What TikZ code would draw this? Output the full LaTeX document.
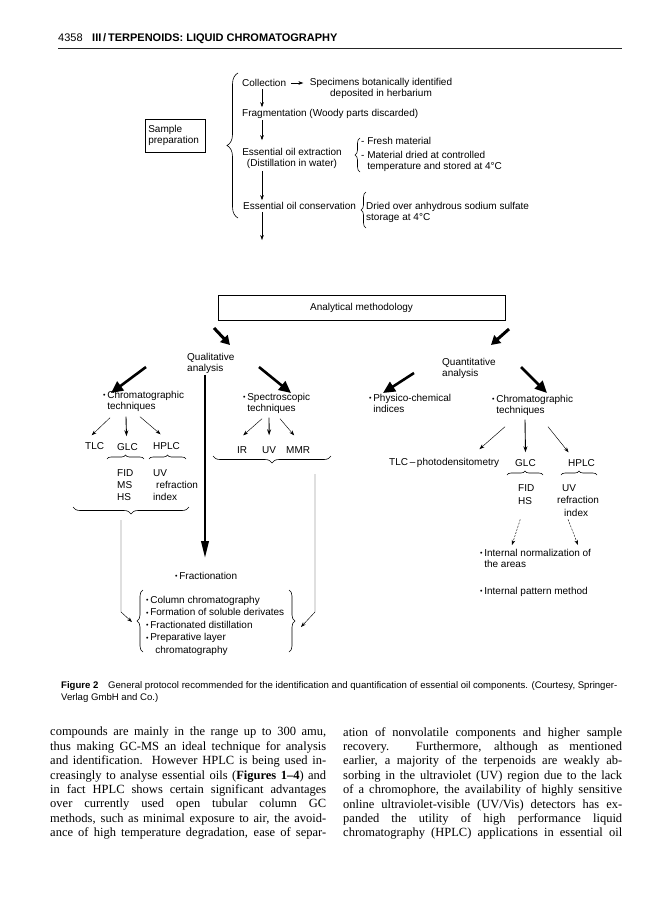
\documentclass[tikz,border=0pt]{standalone}
\usepackage{fontspec}
\setmainfont{Liberation Serif}
\setsansfont{Liberation Sans}
\usetikzlibrary{arrows.meta,decorations.pathreplacing,calc}
\newcommand\dsz{\sffamily\fontsize{10}{11}\selectfont}
\newcommand\dszb{\sffamily\fontsize{10}{12}\selectfont}
\newcommand\dszc{\sffamily\fontsize{10}{12.5}\selectfont}
\newcommand\dszd{\sffamily\fontsize{10}{13}\selectfont}
\newcommand\bul{{\fontsize{7}{7}\selectfont\raisebox{0.6pt}{•}}\,}
\newcommand\jl[1]{\hbox to 276pt{#1}}
\newcommand\jr[1]{\hbox to 279pt{#1}}
\tikzset{
  lbl/.style={inner sep=0pt, anchor=west, font=\dsz},
  blk/.style={inner sep=0pt, anchor=north west, align=left, font=\dsz},
  blkc/.style={inner sep=0pt, anchor=center, align=center, font=\dsz},
  frame/.style={draw, line width=0.6pt, font=\dsz},
  arr/.style={-{Stealth[length=5pt,width=3.6pt]}, line width=0.45pt},
  arrb/.style={-{Stealth[length=6pt,width=4pt]}, line width=0.9pt},
  dsh/.style={-{Stealth[length=5pt,width=3.6pt]}, line width=0.45pt, dash pattern=on 2pt off 1.3pt},
  fat/.style={line width=3pt, -{Triangle[length=9pt,width=10pt]}},
  fatb/.style={line width=2.6pt, -{Triangle[length=12pt,width=11pt]}},
  brc/.style={decorate, decoration={brace, amplitude=#1}, line width=0.6pt},
  brc/.default=4pt
}
\begin{document}
\begin{tikzpicture}[x=1pt,y=-1pt]
\fill[white] (0,0) rectangle (668,900);
\useasboundingbox (0,0) rectangle (668,900);

% ---------- header ----------
\node[inner sep=0pt, anchor=base west, font=\sffamily\fontsize{11}{12}\selectfont] (hnum) at (58,41) {4358};
\node[inner sep=0pt, anchor=base west, font=\sffamily\bfseries\fontsize{11}{12}\selectfont] (htit) at (92,41) {III\,/\,TERPENOIDS: LIQUID CHROMATOGRAPHY};
\draw[line width=1pt, black!85] (58,48) -- (622,48);

% ---------- sample preparation ----------
\coordinate (ax) at (262,0);
\node[frame, anchor=north west, align=left, inner xsep=3pt, text width=54pt, minimum height=33pt] (samp) at (145,119) {Sample\\preparation};
\draw[brc=11pt] (238,218) -- (238,73);

\node[lbl] (coll) at (242,83) {Collection};
\node[blkc] (spec) at (381,88) {Specimens botanically identified\\deposited in herbarium};
\node[lbl] (frag) at (242,114) {Fragmentation (Woody parts discarded)};
\node[blkc] (ext) at (292,158.5) {Essential oil extraction\\(Distillation in water)};
\node[lbl] (fresh) at (361,141) {- Fresh material};
\node[blk] (matd) at (361,151) {- Material dried at controlled\\\hphantom{- }temperature and stored at 4°C};
\node[lbl] (cons) at (243,206) {Essential oil conservation};
\node[blk] (dry) at (366,202) {Dried over anhydrous sodium sulfate\\storage at 4°C};
\coordinate (outc) at (262,240);

\draw[brc=5pt] (360,172) -- (360,138);
\draw[brc=5pt] (366,228) -- (366,192);

\draw[arr] ($(coll.east)+(5,0)$) -- ($(coll.east)+(17,0)$);
\draw[arr] ($(coll.south -| ax)+(0,2)$) -- ($(frag.north -| ax)+(0,-2)$);
\draw[arr] ($(frag.south -| ax)+(0,1)$) -- ($(ext.north -| ax)+(0,-8)$);
\draw[arr] ($(ext.south -| ax)+(0,2)$) -- ($(cons.north -| ax)+(0,-2)$);
\draw[arr] ($(cons.south -| ax)+(0,2)$) -- (outc);

% ---------- analytical methodology ----------
\node[frame, minimum width=287pt, minimum height=25pt, inner sep=0pt] (am) at (361.5,307.5) {Analytical methodology};
\coordinate (f1s) at (214,328); \coordinate (f1e) at (230,345);
\coordinate (f2s) at (509,329); \coordinate (f2e) at (491,345);
\draw[fat] (f1s) -- (f1e);
\draw[fat] (f2s) -- (f2e);

\node[blk] (qual) at (187,353) {Qualitative\\analysis};
\node[blk] (quant) at (442,358) {Quantitative\\analysis};

\coordinate (qa1s) at (146,367); \coordinate (qa1e) at (111,393);
\coordinate (qa2s) at (259,367); \coordinate (qa2e) at (291,393);
\coordinate (qb1s) at (414,373); \coordinate (qb1e) at (383,393);
\coordinate (qb2s) at (521,367); \coordinate (qb2e) at (547,393);
\draw[fatb] (qa1s) -- (qa1e);
\draw[fatb] (qa2s) -- (qa2e);
\draw[fatb] (qb1s) -- (qb1e);
\draw[fatb] (qb2s) -- (qb2e);

% main thick arrow
\coordinate (mainE) at (205,558);
\draw[line width=2.2pt, -{Triangle[length=17pt,width=7.5pt]}] ($(qual.south west)+(18,1)$) -- (mainE);

% ---------- qualitative: chromatographic ----------
\node[blk] (chr1) at (103,391) {\bul Chromatographic\\\hphantom{\bul}techniques};
\node[lbl] (tlc) at (85,446) {TLC};
\node[lbl] (glc) at (117,447) {GLC};
\node[lbl] (hplc) at (153,446) {HPLC};
\draw[arr] ($(chr1.south west)+(7,6)$) -- ($(tlc.north)+(-3,-7)$);
\draw[arrb] ($(chr1.south west)+(23,5)$) -- ($(glc.north)+(-1,-7)$);
\draw[arr] ($(chr1.south west)+(37,5)$) -- ($(hplc.north)+(-6,-8)$);
\draw[brc=4pt] (107,459) -- (144,459);
\draw[brc=4pt] (149,459) -- (186,459);
\node[blk, font=\dszb] (fid) at (117,469) {FID\\MS\\HS};
\node[blk, font=\dszb] (uvb) at (153,469) {UV\\\hspace{3pt}refraction\\index};
\draw[brc=7pt] (189,507) -- (73,507);
\coordinate (lcs) at (121,520); \coordinate (lcm) at (121,612); \coordinate (lce) at (132,622);
\draw[arr] (lcs) -- (lcm) -- (lce);

% ---------- qualitative: spectroscopic ----------
\node[blk] (spc) at (243,393) {\bul Spectroscopic\\\hphantom{\bul}techniques};
\node[lbl] (ir) at (237,450) {IR};
\node[lbl] (uv2) at (262,450) {UV};
\node[lbl] (mmr) at (286,450) {MMR};
\draw[arr] ($(spc.south west)+(19,5)$) -- ($(ir.north)+(1,-11)$);
\draw[arrb] ($(spc.south west)+(26,4)$) -- ($(uv2.north)+(0,-11)$);
\draw[arr] ($(spc.south west)+(37,5)$) -- ($(mmr.north)+(-4,-11)$);
\draw[brc=7pt] (331,456) -- (213,456);
\coordinate (rcs) at (315,474); \coordinate (rcm) at (315,612); \coordinate (rce) at (301,627);
\draw[arr] (rcs) -- (rcm) -- (rce);

% ---------- fractionation ----------
\node[lbl] (frac) at (175,576) {\bul Fractionation};
\node[blk, font=\dszc] (frl) at (146,596) {\bul Column chromatography\\\bul Formation of soluble derivates\\\bul Fractionated distillation\\\bul Preparative layer\\\hphantom{\bul}\hspace{5pt}chromatography};
\draw[brc=6pt] (143,652) -- (143,590);
\draw[brc=6pt] (289,590) -- (289,652);

% ---------- quantitative ----------
\node[blk] (phys) at (369,394) {\bul Physico-chemical\\\hphantom{\bul}indices};
\node[blk] (chr2) at (492,395) {\bul Chromatographic\\\hphantom{\bul}techniques};
\node[lbl] (tlcp) at (389,463) {TLC\,–\,photodensitometry};
\node[lbl] (glc2) at (515,463) {GLC};
\node[lbl] (hplc2) at (568,463) {HPLC};
\draw[arr] ($(chr2.south west)+(13,11)$) -- ($(tlcp.north east)+(-20,-9)$);
\draw[arrb] ($(chr2.south west)+(33,4)$) -- ($(glc2.north)+(0,-7)$);
\draw[arr] ($(chr2.south west)+(56,11)$) -- ($(hplc2.north)+(-13,-7)$);
\draw[brc=4pt] (507,475) -- (543,475);
\draw[brc=4pt] (561,475) -- (597,475);
\node[blk, font=\dszd] (fid2) at (518,484) {FID\\HS};
\node[blk, font=\dszc] (uv3) at (557,484) {\hspace{5pt}UV\\refraction\\\hspace{7pt}index};
\node[blk] (int1) at (480,549) {\bul Internal normalization of\\\hphantom{\bul}the areas};
\node[lbl] (int2) at (480,592) {\bul Internal pattern method};
\draw[dsh] ($(fid2.south)+(-6,15)$) -- ($(int1.north west)+(32,-4)$);
\draw[dsh] ($(uv3.south)+(-10,3)$) -- ($(int1.north west)+(98,-4)$);

% ---------- caption ----------
\node[inner sep=0pt, anchor=north west, align=left, font=\sffamily\fontsize{9.6}{12}\selectfont] (cap) at (61,681) {\textbf{Figure 2}\quad General protocol recommended for the identification and quantification of essential oil components. (Courtesy, Springer-\\Verlag GmbH and Co.)};

% ---------- body text ----------
\node[inner sep=0pt, anchor=north west] (colL) at (50,727) {\parbox[t]{276pt}{\fontsize{12.5}{14.4}\selectfont
\jl{compounds are mainly in the range up to 300 amu,}
\jl{thus making GC-MS an ideal technique for analysis}
\jl{and identification. However HPLC is being used in-}
\jl{creasingly to analyse essential oils (\textbf{Figures 1–4}) and}
\jl{in fact HPLC shows certain significant advantages}
\jl{over currently used open tubular column GC}
\jl{methods, such as minimal exposure to air, the avoid-}
\jl{ance of high temperature degradation, ease of separ-}}};
\node[inner sep=0pt, anchor=north west] (colR) at (343,727) {\parbox[t]{279pt}{\fontsize{12.5}{14.4}\selectfont
\jr{ation of nonvolatile components and higher sample}
\jr{recovery. Furthermore, although as mentioned}
\jr{earlier, a majority of the terpenoids are weakly ab-}
\jr{sorbing in the ultraviolet (UV) region due to the lack}
\jr{of a chromophore, the availability of highly sensitive}
\jr{online ultraviolet-visible (UV/Vis) detectors has ex-}
\jr{panded the utility of high performance liquid}
\jr{chromatography (HPLC) applications in essential oil}}};
\end{tikzpicture}
\end{document}
